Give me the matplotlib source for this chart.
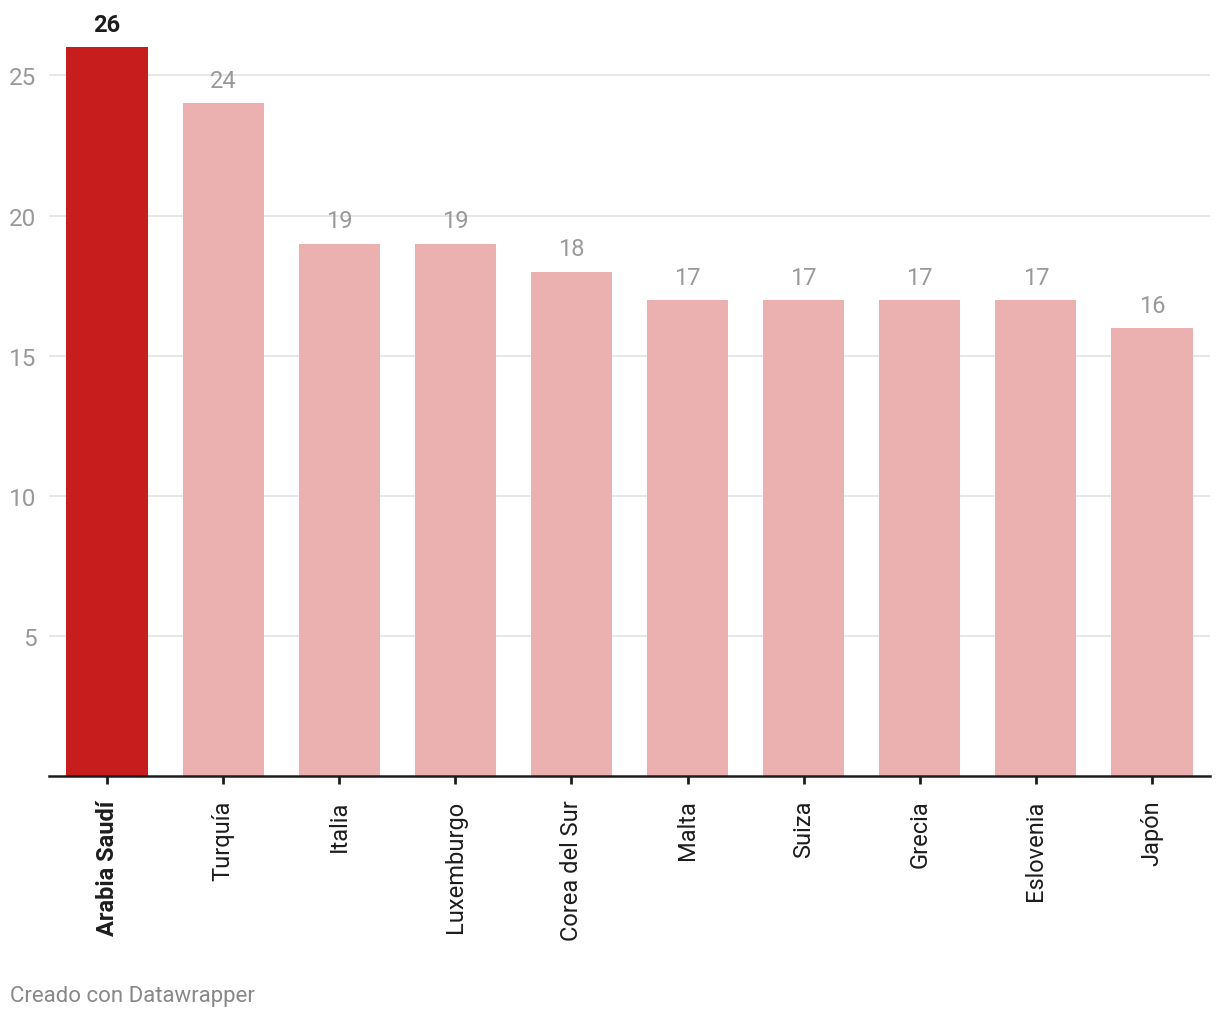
import matplotlib.pyplot as plt

countries = ["Arabia Saudí", "Turquía", "Italia", "Luxemburgo", "Corea del Sur",
             "Malta", "Suiza", "Grecia", "Eslovenia", "Japón"]
values = [26, 24, 19, 19, 18, 17, 17, 17, 17, 16]
highlight = "Arabia Saudí"
y_ticks = [5, 10, 15, 20, 25]

plt.rcParams['font.family'] = ['Roboto', 'DejaVu Sans']

fig = plt.figure(figsize=(12.2, 10.2), dpi=100)
ax = fig.add_axes([49 / 1220, 243 / 1020, 1161 / 1220, 737 / 1020])

colors = ["#c71e1d" if c == highlight else "#eab1b0" for c in countries]
x = range(len(countries))
bars = ax.bar(x, values, width=0.7, color=colors, zorder=2)

for i, (c, v) in enumerate(zip(countries, values)):
    if c == highlight:
        ax.annotate(str(v), (i, v), xytext=(0, 8), textcoords="offset points",
                    ha="center", va="bottom", fontsize=17, fontweight="bold", color="#1d1d1d")
    else:
        ax.annotate(str(v), (i, v), xytext=(0, 8), textcoords="offset points",
                    ha="center", va="bottom", fontsize=17, color="#999999")

ax.set_xlim(-0.5, 9.5)
ax.set_ylim(0, 26.3)
ax.set_yticks(y_ticks)
ax.set_yticklabels([str(t) for t in y_ticks])
ax.grid(axis="y", color="#e3e3e3", linewidth=1.2, zorder=0)
ax.tick_params(axis="y", length=0, pad=9, labelsize=17.5, labelcolor="#999999")

ax.set_xticks(list(x))
ax.set_xticklabels(countries, rotation=90, va="top", ha="center")
ax.tick_params(axis="x", length=6, width=2, color="#1d1d1d", pad=11, labelsize=17,
               labelcolor="#1d1d1d")
for lbl in ax.get_xticklabels():
    if lbl.get_text() == highlight:
        lbl.set_fontweight("bold")

for s in ["top", "right", "left"]:
    ax.spines[s].set_visible(False)
ax.spines["bottom"].set_color("#1d1d1d")
ax.spines["bottom"].set_linewidth(1.8)
ax.spines["bottom"].set_zorder(3)

fig.text(10 / 1220, 1 - 997 / 1020, "Creado con Datawrapper", fontsize=16,
         color="#888888", ha="left", va="center")

fig.savefig("out.png", dpi=100)
